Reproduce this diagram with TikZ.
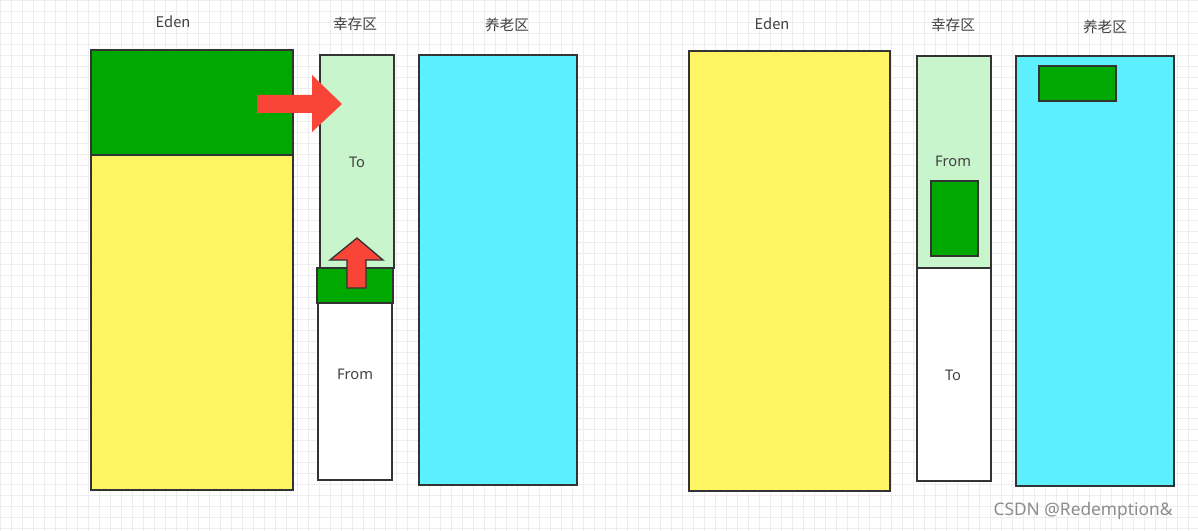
\documentclass[tikz,border=0pt]{standalone}
\usepackage{fontspec}
\setmainfont{Noto Sans}
\newfontfamily\cjk{Noto Sans CJK SC}
\begin{document}
\begin{tikzpicture}[x=0.75pt,y=-0.75pt,
  bx/.style={draw=black!80,line width=1.3pt},
  lb/.style={font=\fontsize{11}{13}\selectfont\cjk,text=black!75},
  tx/.style={font=\fontsize{11}{13}\selectfont,text=black!75}]
\definecolor{gr}{HTML}{00A800}
\definecolor{ye}{HTML}{FFF464}
\definecolor{lg}{HTML}{C8F5CB}
\definecolor{cy}{HTML}{5CF0FF}
\definecolor{rd}{HTML}{F94438}
\fill[white] (0,0) rectangle (1198,531);
\useasboundingbox (0,0) rectangle (1198,531);
\foreach \i in {0,11,...,1198} \draw[black!7,line width=0.4pt] (\i,0) -- (\i,531);
\foreach \j in {0,11,...,531} \draw[black!7,line width=0.4pt] (0,\j) -- (1198,\j);
% left
\draw[bx,fill=ye] (91,155) rectangle (293,490);
\draw[bx,fill=gr] (91,50) rectangle (293,155);
\draw[bx,fill=lg] (320,55) rectangle (394,268);
\draw[bx,fill=white] (318,303) rectangle (392,480);
\draw[bx,fill=gr] (317,268) rectangle (393,303);
\draw[bx,fill=cy] (419,55) rectangle (577,485);
\fill[rd] (257,95) -- (312,95) -- (312,75) -- (342,104) -- (312,132) -- (312,113) -- (257,113) -- cycle;
\draw[draw=black!80,line width=1pt,fill=rd] (347,288) -- (347,260) -- (330,260) -- (357,238) -- (383,260) -- (366,260) -- (366,288) -- cycle;
\node[lb] (t1) at (173,22) {Eden};
\node[lb] (t2) at (355,24) {幸存区};
\node[lb] (t3) at (507,25) {养老区};
\node[tx] (a) at (357,162) {To};
\node[tx] (b) at (355,374) {From};
% right
\draw[bx,fill=ye] (689,51) rectangle (890,491);
\draw[bx,fill=lg] (917,56) rectangle (991,268);
\draw[bx,fill=gr] (931,181) rectangle (978,256);
\draw[bx,fill=white] (917,268) rectangle (991,481);
\draw[bx,fill=cy] (1016,56) rectangle (1174,486);
\draw[bx,fill=gr] (1039,66) rectangle (1116,101);
\node[lb] (t4) at (772,24) {Eden};
\node[lb] (t5) at (953,25) {幸存区};
\node[lb] (t6) at (1105,27) {养老区};
\node[tx] (c) at (953,161) {From};
\node[tx] (d) at (953,375) {To};
\node[font=\fontsize{13}{15}\selectfont,text=black!45] (w) at (1083,511) {CSDN @Redemption\&};
\end{tikzpicture}
\end{document}
